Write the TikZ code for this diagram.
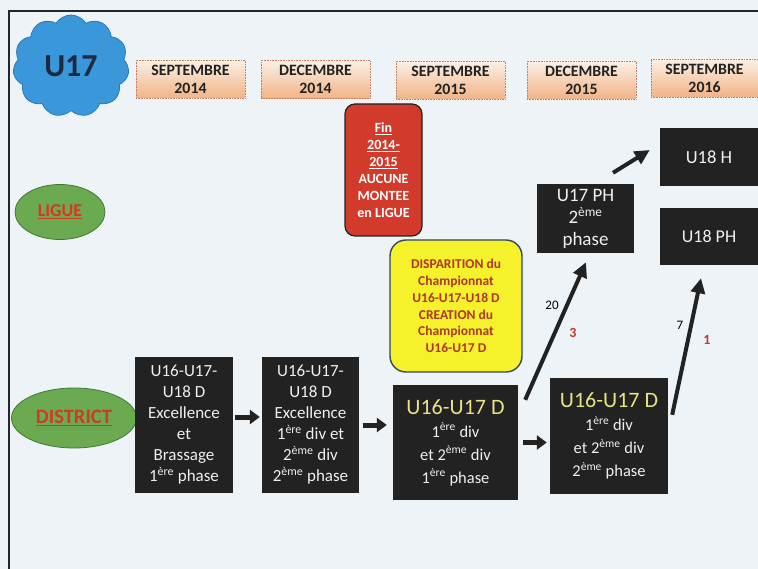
\documentclass[tikz,border=0pt]{standalone}
\usepackage{fontspec}
\setmainfont{Carlito}
\usetikzlibrary{shapes.symbols,shapes.geometric,arrows.meta,calc}
\definecolor{bg}{HTML}{EEF3F8}
\definecolor{cloudblue}{HTML}{3A98DA}
\definecolor{cloudedge}{HTML}{2A78B8}
\definecolor{navy}{HTML}{1E2A40}
\definecolor{peachtop}{HTML}{FBF0E6}
\definecolor{peachbot}{HTML}{F1B386}
\definecolor{peachedge}{HTML}{C08060}
\definecolor{boxblack}{HTML}{222222}
\definecolor{redbox}{HTML}{D23B2B}
\definecolor{yellowbox}{HTML}{F5F22C}
\definecolor{yellowedge}{HTML}{34465A}
\definecolor{darkred}{HTML}{B0352A}
\definecolor{ovalgreen}{HTML}{6BAA50}
\definecolor{ovaledge}{HTML}{3F7A33}
\definecolor{ovaltext}{HTML}{D23A22}
\definecolor{paleyellow}{HTML}{E9E382}
\definecolor{numred}{HTML}{C0392B}
\newcommand{\supx}[1]{\textsuperscript{#1}}
\begin{document}
\begin{tikzpicture}[x=1pt,y=-1pt,
  datebox/.style={draw=peachedge, densely dotted, line width=0.6pt, top color=peachtop, bottom color=peachbot,
    minimum width=109pt, minimum height=38pt, inner sep=0pt, align=center, text=boxblack,
    font=\bfseries\fontsize{15.8}{18}\selectfont},
  blackbox/.style={fill=boxblack, text=white!94!black, inner sep=0pt, align=center,
    font=\fontsize{17}{21}\selectfont},
  oval/.style={ellipse, fill=ovalgreen, draw=ovaledge, line width=0.8pt, inner sep=0pt,
    text=ovaltext, font=\bfseries\fontsize{18}{20}\selectfont},
  fat/.style={line width=5pt, draw=boxblack, -{Triangle[length=10pt,width=14pt]}},
  diag/.style={line width=4pt, draw=boxblack, -{Triangle[length=15pt,width=14pt]}},
  numlabel/.style={font=\fontsize{13}{15}\selectfont, inner sep=0pt},
  rednum/.style={font=\bfseries\fontsize{14}{15}\selectfont, text=numred, inner sep=0pt}
]
\useasboundingbox[fill=bg] (0,0) rectangle (758,569);
\draw[line width=1.5pt, black!85] (9,569) -- (9,11) -- (758,11);

% cloud
\node[cloud, cloud puffs=11, cloud puff arc=115, aspect=1.1, fill=cloudblue, draw=cloudedge, line width=0.8pt,
  minimum width=116pt, minimum height=102pt, inner sep=0pt,
  text=navy, font=\bfseries\fontsize{32}{34}\selectfont] (cloud) at (71,66) {U17};

% dates
\node[datebox] (d1) at (190.5,79) {SEPTEMBRE\\2014};
\node[datebox] (d2) at (315.5,79.5) {DECEMBRE\\2014};
\node[datebox] (d3) at (450.5,80) {SEPTEMBRE\\2015};
\node[datebox] (d4) at (581.5,80) {DECEMBRE\\2015};
\node[datebox, minimum width=107pt] (d5) at (704.5,78) {SEPTEMBRE\\2016};

% red note
\node[draw=boxblack, line width=1.2pt, fill=redbox, rounded corners=10pt, minimum width=77pt, minimum height=132pt,
  inner sep=0pt, align=center, text=white, font=\bfseries\fontsize{14}{17}\selectfont]
  (fin) at (383.5,170) {\underline{Fin}\\\underline{2014-}\\\underline{2015}\\AUCUNE\\MONTEE\\en LIGUE};

% yellow note
\node[draw=yellowedge, line width=1.4pt, fill=yellowbox, rounded corners=16pt, minimum width=132pt, minimum height=132pt,
  inner sep=0pt, align=center, text=darkred, font=\bfseries\fontsize{13.5}{16.7}\selectfont]
  (disp) at (456,306) {DISPARITION du\\Championnat\\U16-U17-U18 D\\CREATION du\\Championnat\\U16-U17 D};

% ovals
\node[oval, minimum width=90pt, minimum height=55pt] (ligue) at (60,212) {\underline{LIGUE}};
\node[oval, minimum width=125pt, minimum height=60pt, font=\bfseries\fontsize{20.5}{22}\selectfont] (district) at (74,418) {\underline{DISTRICT}};

% black boxes
\node[blackbox, minimum width=98pt, minimum height=136pt] (b1) at (184,425)
  {U16-U17-\\U18 D\\Excellence\\et\\Brassage\\1\supx{ère} phase};
\node[blackbox, minimum width=97pt, minimum height=136pt] (b2) at (310.5,425)
  {U16-U17-\\U18 D\\Excellence\\1\supx{ère} div et\\2\supx{ème} div\\2\supx{ème} phase};
\node[blackbox, minimum width=125pt, minimum height=115pt, font=\fontsize{16.5}{23}\selectfont] (b3) at (455.5,442.5)
  {{\color{paleyellow}\fontsize{22}{24}\selectfont U16-U17 D}\\1\supx{ère} div\\et 2\supx{ème} div\\1\supx{ère} phase};
\node[blackbox, minimum width=118pt, minimum height=116pt, font=\fontsize{16.5}{23}\selectfont] (b4) at (609,436)
  {{\color{paleyellow}\fontsize{22}{24}\selectfont U16-U17 D}\\1\supx{ère} div\\et 2\supx{ème} div\\2\supx{ème} phase};
\node[blackbox, minimum width=97pt, minimum height=69pt, font=\fontsize{19}{22}\selectfont] (u17ph) at (585.5,218.5)
  {U17 PH\\2\supx{ème}\\phase};
\node[blackbox, minimum width=98pt, minimum height=58pt, font=\fontsize{18.5}{22}\selectfont] (u18h) at (709,157) {U18 H};
\node[blackbox, minimum width=98pt, minimum height=57pt, font=\fontsize{18}{22}\selectfont] (u18ph) at (709,236.5) {U18 PH};

% arrows
\draw[fat] ($(b1.east)+(2,-8)$) -- ($(b2.west)+(-2,-8)$);
\draw[fat] ($(b2.east)+(4,0)$) -- ($(b3.west |- b2.east)+(-6,0)$);
\draw[fat] ($(b3.east)+(5,0)$) -- ($(b4.west |- b3.east)+(-3,0)$);

\coordinate (s1) at ($(b3.north east)+(7,15)$);
\coordinate (e1) at ($(u17ph.south)+(0.5,9)$);
\draw[diag] (s1) -- (e1);
\coordinate (s2) at ($(b4.north east)+(4,37)$);
\coordinate (e2) at ($(u18ph.south)+(-8,13)$);
\draw[diag] (s2) -- (e2);
\coordinate (s3) at ($(u17ph.north)+(27.5,-11)$);
\coordinate (e3) at ($(u18h.west)+(-10,-7)$);
\draw[diag] (s3) -- (e3);

% numbers
\node[numlabel] (n20) at (552,305) {20};
\node[rednum] (n3) at (573,333) {3};
\node[numlabel] (n7) at (680,325) {7};
\node[rednum] (n1) at (707,340) {1};
\end{tikzpicture}
\end{document}
